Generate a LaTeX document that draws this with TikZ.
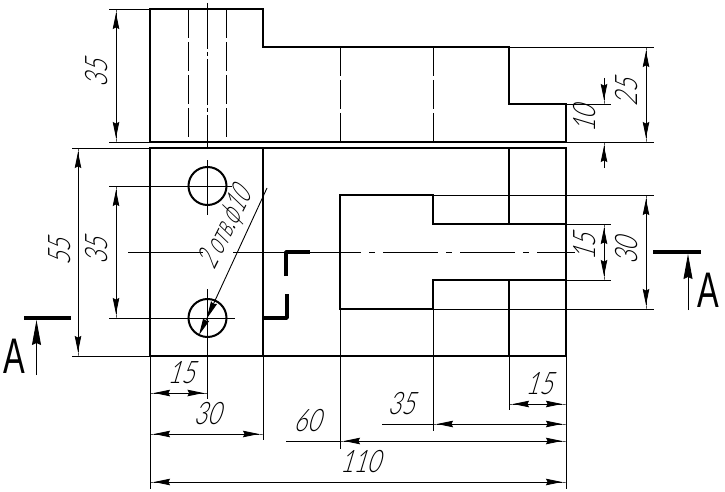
\documentclass[tikz,border=0pt]{standalone}
\usepackage{fontspec}
\usepackage{tikz}
\usetikzlibrary{arrows.meta}
\newfontfamily\gostfont[FakeStretch=0.74,FakeSlant=0.3]{Lato Light}
\newfontfamily\gostnarrow[FakeStretch=0.62,FakeSlant=0.3]{Lato Light}
\newfontfamily\markfont[FakeStretch=0.65]{Liberation Sans}
\tikzset{
contour/.style={line width=2pt},
thinline/.style={line width=0.9pt},
hidden/.style={line width=0.9pt,dash pattern=on 29pt off 4pt},
axisline/.style={line width=0.9pt,dash pattern=on 46pt off 3pt on 4pt off 3pt},
axislong/.style={line width=0.9pt,dash pattern=on 55pt off 8pt on 6pt off 8pt},
cutmark/.style={line width=3.4pt},
dimtip/.tip={Stealth[length=16pt,width=6.5pt,inset=1.5pt] Rectangle[length=4pt,width=0.9pt]},
dimline/.style={thinline,{dimtip}-{dimtip}},
dimone/.style={thinline,-{dimtip}},
cutarrow/.style={thinline,-{Stealth[length=25pt,width=9pt,inset=2pt]}},
dimlabel/.style={font=\gostfont\fontsize{31}{31}\selectfont,inner sep=0pt},
notelabel/.style={font=\gostnarrow\fontsize{31}{31}\selectfont,inner sep=0pt},
marklabel/.style={font=\markfont\fontsize{50}{50}\selectfont,inner sep=0pt}
}
\begin{document}
\begin{tikzpicture}[x=1pt,y=-1pt]
\useasboundingbox (0,0) rectangle (725,492);
% top view
\draw[contour] (150,9) -- (263,9) -- (263,47) -- (509,47) -- (509,104) -- (566,104) -- (566,142) -- (150,142) -- cycle;
\draw[hidden] (188,9) -- (188,142);
\draw[hidden] (226,9) -- (226,142);
\draw[hidden] (340,47) -- (340,142);
\draw[hidden] (433,47) -- (433,142);
\draw[axisline] (207.5,3) -- (207.5,147);
% plan view
\draw[contour] (150,148) rectangle (566,356);
\draw[contour] (263,148) -- (263,356);
\draw[contour] (509,148) -- (509,224);
\draw[contour] (509,280) -- (509,356);
\draw[contour] (566,224) -- (433,224) -- (433,195) -- (340,195) -- (340,309) -- (433,309) -- (433,280) -- (566,280);
\node[circle,draw=black,contour,minimum size=38pt,inner sep=0pt] (holeA) at (207.5,186) {};
\node[circle,draw=black,contour,minimum size=38pt,inner sep=0pt] (holeB) at (207.5,318) {};
% axes
\draw[thinline] (207.5,160) -- (207.5,215);
\draw[thinline] (207.5,289) -- (207.5,399);
\draw[thinline] (128,252) -- (203,252);
\draw[thinline] (233,252) -- (306,252);
\draw[axislong] (306,252) -- (575,252);
% extension lines
\draw[thinline] (109,9) -- (150,9);
\draw[thinline] (109,142) -- (150,142);
\draw[thinline] (72,148) -- (150,148);
\draw[thinline] (72,356) -- (150,356);
\draw[thinline] (109,186) -- (232,186);
\draw[thinline] (109,318) -- (235,318);
\draw[thinline] (509,47) -- (654,47);
\draw[thinline] (566,142) -- (654,142);
\draw[thinline] (566,104) -- (611,104);
\draw[thinline] (433,195) -- (654,195);
\draw[thinline] (433,309) -- (654,309);
\draw[thinline] (566,224) -- (611,224);
\draw[thinline] (566,280) -- (611,280);
\draw[thinline] (150,356) -- (150,489);
\draw[thinline] (263,356) -- (263,440);
\draw[thinline] (340,309) -- (340,449);
\draw[thinline] (433,309) -- (433,431);
\draw[thinline] (509,356) -- (509,410);
\draw[thinline] (566,356) -- (566,489);
% dimensions
\draw[dimline] (116,9) -- (116,142);
\draw[dimline] (78,148) -- (78,356);
\draw[dimline] (116,186) -- (116,318);
\draw[dimline] (646,47) -- (646,142);
\draw[dimline] (646,195) -- (646,309);
\draw[dimline] (604,224) -- (604,280);
\draw[dimone] (604,78) -- (604,104);
\draw[dimone] (604,168) -- (604,142);
\draw[dimline] (150,393) -- (207.5,393);
\draw[dimline] (150,434) -- (263,434);
\draw[thinline] (286,441) -- (340,441);
\draw[dimline] (340,441) -- (566,441);
\draw[thinline] (382,424) -- (433,424);
\draw[dimline] (433,424) -- (566,424);
\draw[dimline] (509,404) -- (566,404);
\draw[dimline] (150,482) -- (566,482);
\node[dimlabel,rotate=90] (lblA) at (97,74) {35};
\node[dimlabel,rotate=90] (lblB) at (60,252) {55};
\node[dimlabel,rotate=90] (lblC) at (97,251) {35};
\node[dimlabel,rotate=90] (lblD) at (627,93) {25};
\node[dimlabel,rotate=90] (lblE) at (585,119) {10};
\node[dimlabel,rotate=90] (lblF) at (585,247) {15};
\node[dimlabel,rotate=90] (lblG) at (627,251) {30};
\node[dimlabel] (lblH) at (181,373) {15};
\node[dimlabel] (lblI) at (207,414) {30};
\node[dimlabel] (lblJ) at (307,421) {60};
\node[dimlabel] (lblK) at (401,404) {35};
\node[dimlabel] (lblL) at (539,384) {15};
\node[dimlabel] (lblM) at (360,462) {110};
% leader
\coordinate (leadtop) at (267,188);
\coordinate (leadmid) at (206.5,319);
\coordinate (leadend) at (199,335);
\draw[thinline,-{Stealth[length=18pt,width=6.5pt,inset=1.5pt]}] (leadtop) -- (leadmid);
\draw[thinline,-{Stealth[length=17pt,width=6.5pt,inset=1.5pt]}] (leadmid) -- (leadend);
\node[notelabel,rotate=63] (lblN) at (226,229) {2 отв.ф10};
% section marks
\draw[cutmark] (24,318) -- (71,318);
\draw[cutmark] (653,252) -- (701,252);
\draw[cutmark,line join=round] (286,276) -- (286,252) -- (310,252);
\draw[cutmark,line join=round] (263,318) -- (287,318) -- (287,294);
\draw[cutarrow] (36.5,375) -- (36.5,320);
\draw[cutarrow] (688,310) -- (688,254);
\node[marklabel] (secA) at (14.5,356) {A};
\node[marklabel] (secB) at (708,290) {A};
\end{tikzpicture}
\end{document}
